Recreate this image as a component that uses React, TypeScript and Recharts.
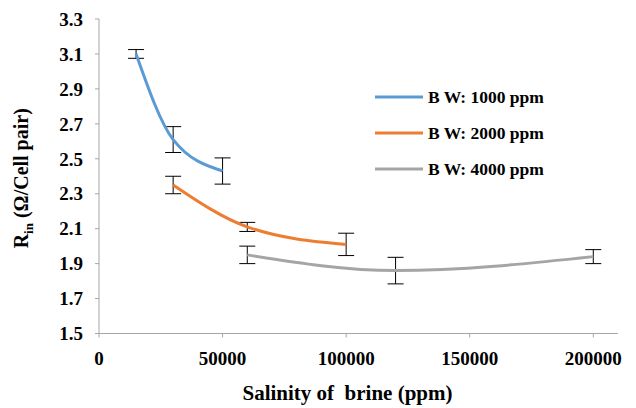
import React from "react";
import { LineChart, Line, XAxis, YAxis, ErrorBar, Legend, Label } from "recharts";

const seriesNames = ["B W: 1000 ppm", "B W: 2000 ppm", "B W: 4000 ppm"];
const seriesColors = ["#5B9BD5", "#ED7D31", "#A5A5A5"];

const bw1000X = [15000, 30000, 50000];
const bw1000Y = [3.1, 2.61, 2.43];
const bw1000Err = [0.025, 0.074, 0.075];

const bw2000X = [30000, 60000, 100000];
const bw2000Y = [2.35, 2.11, 2.01];
const bw2000Err = [0.05, 0.026, 0.064];

const bw4000X = [60000, 120000, 200000];
const bw4000Y = [1.95, 1.86, 1.94];
const bw4000Err = [0.05, 0.076, 0.04];

const xTicks = [0, 50000, 100000, 150000, 200000];
const yTicks = [1.5, 1.7, 1.9, 2.1, 2.3, 2.5, 2.7, 2.9, 3.1, 3.3];

const build = (xs: number[], ys: number[], es: number[]) =>
  xs.map((x, i) => ({ x, y: ys[i], err: es[i] }));

const series = [
  build(bw1000X, bw1000Y, bw1000Err),
  build(bw2000X, bw2000Y, bw2000Err),
  build(bw4000X, bw4000Y, bw4000Err),
];

const FONT = "Liberation Serif, DejaVu Serif, serif";
const AXIS = "#A6A6A6";

const LegendContent = () => (
  <div style={{ fontFamily: FONT, fontWeight: "bold", fontSize: 17.5, color: "#000" }}>
    {seriesNames.map((n, i) => (
      <div key={n} style={{ display: "flex", alignItems: "center", height: 36 }}>
        <svg width={48} height={6} style={{ marginRight: 5 }}>
          <line x1={0} y1={3} x2={48} y2={3} stroke={seriesColors[i]} strokeWidth={3} />
        </svg>
        <span style={{ whiteSpace: "pre" }}>{n}</span>
      </div>
    ))}
  </div>
);

const YLabel = (props: any) => {
  const vb = props.viewBox || { x: 0, y: 0, width: 0, height: 0 };
  const cy = vb.y + vb.height / 2 + 2;
  const cx = 28;
  return (
    <text
      x={cx}
      y={cy}
      transform={`rotate(-90, ${cx}, ${cy})`}
      textAnchor="middle"
      fill="#000"
      style={{ whiteSpace: "pre", fontFamily: FONT, fontWeight: "bold", fontSize: 20 }}
    >
      <tspan>R</tspan>
      <tspan style={{ fontSize: 13 }} dy={5}>in</tspan>
      <tspan dy={-5}> (Ω/Cell pair)</tspan>
    </text>
  );
};

const XLabel = (props: any) => {
  const vb = props.viewBox || { x: 0, y: 0, width: 0, height: 0 };
  return (
    <text
      x={vb.x + vb.width / 2 - 11}
      y={vb.y + 66}
      textAnchor="middle"
      fill="#000"
      style={{ whiteSpace: "pre", fontFamily: FONT, fontWeight: "bold", fontSize: 21 }}
    >
      Salinity of  brine (ppm)
    </text>
  );
};

export default function App() {
  const tickStyle = { fontFamily: FONT, fontWeight: "bold" as const, fontSize: 19, fill: "#000" };
  return (
    <div>
      <style>{`body{margin:0;} .recharts-cartesian-axis-tick-value{font-family:${FONT};font-weight:bold;font-size:19px;}`}</style>
      <LineChart width={636} height={408} margin={{ top: 19, right: 18, left: 0, bottom: 0 }}>
        <XAxis
          type="number"
          dataKey="x"
          domain={[0, 210000]}
          ticks={xTicks}
          allowDataOverflow
          height={74.5}
          tickSize={4}
          tickMargin={14}
          stroke={AXIS}
          tick={tickStyle}
          axisLine={{ stroke: AXIS, strokeWidth: 1 }}
          tickLine={{ stroke: AXIS }}
        >
          <Label content={XLabel} />
        </XAxis>
        <YAxis
          type="number"
          dataKey="y"
          domain={[1.5, 3.3]}
          ticks={yTicks}
          allowDataOverflow
          width={99}
          tickSize={4}
          tickMargin={12}
          tick={tickStyle}
          tickFormatter={(v: number) => v.toFixed(1)}
          axisLine={{ stroke: AXIS, strokeWidth: 1 }}
          tickLine={{ stroke: AXIS }}
        >
          <Label content={YLabel} />
        </YAxis>
        <Legend
          layout="vertical"
          align="center"
          verticalAlign="middle"
          content={LegendContent}
          wrapperStyle={{ position: "absolute", left: 375, top: 79, width: 200, height: 108 }}
        />
        {series.map((d, i) => (
          <Line
            key={seriesNames[i]}
            name={seriesNames[i]}
            data={d}
            dataKey="y"
            type="monotone"
            stroke={seriesColors[i]}
            strokeWidth={3}
            dot={false}
            activeDot={false}
            isAnimationActive={false}
          >
            <ErrorBar dataKey="err" direction="y" width={8} stroke="#000" strokeWidth={1} />
          </Line>
        ))}
      </LineChart>
    </div>
  );
}
